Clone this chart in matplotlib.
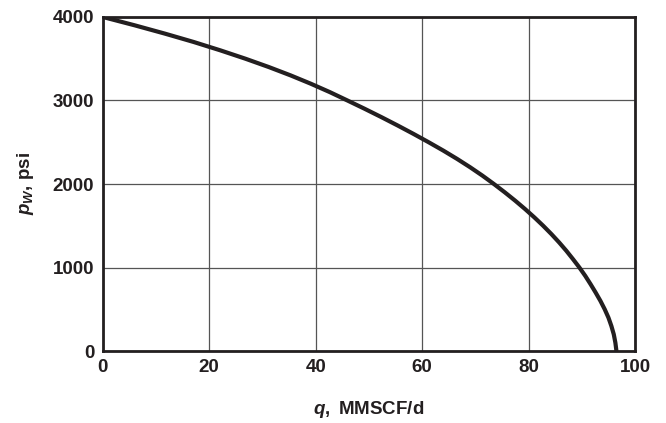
import matplotlib
matplotlib.use("Agg")
import matplotlib.pyplot as plt

plt.rcParams['font.family'] = ['Liberation Sans', 'DejaVu Sans']
plt.rcParams['font.weight'] = 'bold'
plt.rcParams['mathtext.fontset'] = 'custom'
plt.rcParams['mathtext.it'] = 'Liberation Sans:italic:bold'
plt.rcParams['mathtext.rm'] = 'Liberation Sans:bold'
plt.rcParams['mathtext.bf'] = 'Liberation Sans:bold'

# (pw in psi, q in MMSCF/d)
pw_vals = [4000, 3900, 3800, 3700, 3600, 3500, 3400, 3300, 3200, 3100,
           3000, 2900, 2800, 2700, 2600, 2500, 2400, 2300, 2200, 2100,
           2000, 1900, 1800, 1700, 1600, 1500, 1400, 1300, 1200, 1100,
           1000, 900, 800, 700, 600, 500, 400, 300, 200, 100, 0]
q_vals = [0.0, 6.0, 11.7, 17.1, 22.1, 26.8, 31.2, 35.3, 39.1, 42.65,
          45.95, 49.2, 52.35, 55.4, 58.35, 61.2, 63.95, 66.55, 69.0, 71.3,
          73.45, 75.5, 77.45, 79.3, 81.05, 82.7, 84.25, 85.7, 87.05, 88.3,
          89.5, 90.6, 91.6, 92.55, 93.45, 94.25, 94.95, 95.5, 95.95, 96.25, 96.45]

x_ticks = [0, 20, 40, 60, 80, 100]
y_ticks = [0, 1000, 2000, 3000, 4000]

fig = plt.figure(figsize=(6.66, 4.23), dpi=100)
ax = fig.add_axes([0.154, 0.170, 0.800, 0.790])

ax.plot(q_vals, pw_vals, color='#231f20', lw=3.0, solid_capstyle='butt',
        solid_joinstyle='round', zorder=3)

ax.set_xlim(0, 100)
ax.set_ylim(0, 4000)
ax.set_xticks(x_ticks)
ax.set_yticks(y_ticks)
ax.grid(True, color='#555555', lw=0.9)
ax.tick_params(length=0, labelsize=13.5, pad=6)
for lab in ax.get_xticklabels() + ax.get_yticklabels():
    lab.set_fontweight('bold')
    lab.set_color('#231f20')
for s in ax.spines.values():
    s.set_linewidth(2.0)
    s.set_color('#231f20')

ax.set_xlabel(r'$q,$ MMSCF/d', fontsize=13.5, fontweight='bold', color='#231f20', labelpad=16)
ax.set_ylabel(r'$p_W$, psi', fontsize=13.5, fontweight='bold', color='#231f20', labelpad=12)

fig.savefig('out.png', dpi=100)
